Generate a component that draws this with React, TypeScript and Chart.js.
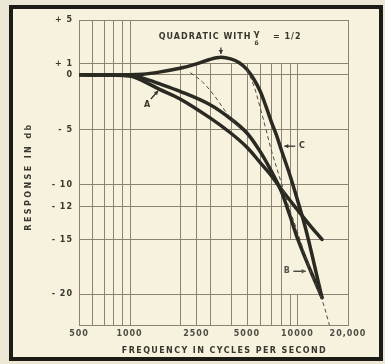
import React, { useEffect, useRef } from "react";
import { Chart, registerables } from "chart.js";
Chart.register(...registerables);

// ---- axes ----
const xTickValues = [500, 1000, 2500, 5000, 10000, 20000];
const xTickLabels = ["500", "1000", "2500", "5000", "10000", "20,000"];
const yTickValues = [5, 1, 0, -5, -10, -12, -15, -20];
const yTickLabels = ["+ 5", "+ 1", "0", "- 5", "- 10", "- 12", "- 15", "- 20"];
const xMin = 500;
const xMax = 20000;
const yMin = -22.8;
const yMax = 5;
const xTitle = "FREQUENCY IN CYCLES PER SECOND";
const yTitle = "RESPONSE IN db";

// vertical grid lines (frequencies) and horizontal bands they span
const gridFreqs = [600, 700, 800, 900, 1000, 2000, 2500, 3000, 4000, 5000, 6000, 7000, 8000, 9000, 10000];
const bandTopDb = [5, 1, 0, -5, -10, -12, -15, -20];
const bandBottomDb = [1, 0, -5, -10, -12, -15, -20, -22.8];
const bandMaxFreq = [1000, 10000, 10000, 10000, 10000, 10000, 8000, 10000];

// ---- series ----
// C: quadratic with gamma/delta = 1/2
const cFreq = [500, 1000, 1200, 1500, 2000, 2500, 3000, 3500, 4000, 4500, 5000, 5500, 6000, 6500, 7000, 7500, 8000, 9000, 10000, 11000, 12000, 13000, 14000];
const cDb = [0, 0, 0.05, 0.25, 0.6, 1.0, 1.4, 1.6, 1.45, 1.1, 0.5, -0.4, -1.5, -2.9, -4.3, -5.5, -6.8, -9.1, -11.4, -13.6, -15.9, -18.2, -20.3];
// B
const bFreq = [500, 1000, 1200, 1500, 2000, 3000, 4000, 5000, 6000, 7000, 8000, 9000, 10000, 12000, 14000];
const bDb = [0, -0.05, -0.3, -0.8, -1.5, -2.7, -4.0, -5.3, -7.0, -8.8, -10.6, -12.8, -14.9, -17.9, -20.3];
// A
const aFreq = [500, 1000, 1200, 1500, 2000, 3000, 4000, 5000, 6000, 7000, 8000, 10000, 12000, 14000];
const aDb = [0, -0.1, -0.55, -1.3, -2.2, -3.9, -5.3, -6.6, -8.0, -9.2, -10.4, -12.3, -13.8, -15.0];
// dashed curves
const d1Freq = [2300, 2700, 3200, 3800, 4500];
const d1Db = [0.2, -0.6, -1.9, -3.5, -4.8];
const d2Freq = [5000, 5500, 6000, 6500, 7000, 8000, 9000, 10000, 12000, 14000, 15500];
const d2Db = [0.5, -1.0, -3.0, -5.0, -6.9, -9.8, -12.3, -14.3, -18.0, -20.5, -22.8];

const ink = "#2a2a22";
const gridColor = "#8e8272";
const textColor = "#37372f";
const FONT = "'DejaVu Sans', sans-serif";

const pts = (f: number[], d: number[]) => f.map((v, i) => ({ x: v, y: d[i] }));

function arrow(ctx: CanvasRenderingContext2D, x1: number, y1: number, x2: number, y2: number) {
  ctx.beginPath();
  ctx.moveTo(x1, y1);
  ctx.lineTo(x2, y2);
  ctx.stroke();
  const ang = Math.atan2(y2 - y1, x2 - x1);
  const L = 4, W = 2.2;
  ctx.beginPath();
  ctx.moveTo(x2, y2);
  ctx.lineTo(x2 - L * Math.cos(ang) + W * Math.sin(ang), y2 - L * Math.sin(ang) - W * Math.cos(ang));
  ctx.lineTo(x2 - L * Math.cos(ang) - W * Math.sin(ang), y2 - L * Math.sin(ang) + W * Math.cos(ang));
  ctx.closePath();
  ctx.fill();
}

const paperPlugin = {
  id: "paper",
  beforeDraw(chart: any) {
    (chart.ctx as any).letterSpacing = "1px";
  },
  beforeDatasetsDraw(chart: any) {
    const { ctx, chartArea, scales } = chart;
    const x = scales.x, y = scales.y;
    ctx.save();
    ctx.strokeStyle = gridColor;
    ctx.lineWidth = 1;
    for (let b = 0; b < bandTopDb.length; b++) {
      const y1 = y.getPixelForValue(bandTopDb[b]);
      const y2 = y.getPixelForValue(bandBottomDb[b]);
      for (const f of gridFreqs) {
        if (f > bandMaxFreq[b]) continue;
        const px = Math.round(x.getPixelForValue(f)) + 0.5;
        ctx.beginPath();
        ctx.moveTo(px, y1);
        ctx.lineTo(px, y2);
        ctx.stroke();
      }
    }
    ctx.strokeRect(
      Math.round(chartArea.left) + 0.5,
      Math.round(chartArea.top) + 0.5,
      Math.round(chartArea.right - chartArea.left),
      Math.round(chartArea.bottom - chartArea.top)
    );
    ctx.restore();
  },
  afterDatasetsDraw(chart: any) {
    const { ctx, scales, chartArea } = chart;
    const X = (f: number) => scales.x.getPixelForValue(f);
    const Y = (d: number) => scales.y.getPixelForValue(d);
    ctx.save();
    (ctx as any).letterSpacing = "1px";
    ctx.fillStyle = textColor;
    ctx.strokeStyle = ink;
    ctx.lineWidth = 1.2;
    ctx.font = `bold 8px ${FONT}`;
    ctx.textBaseline = "middle";
    // title
    ctx.textAlign = "right";
    ctx.fillText("QUADRATIC WITH", X(5320), Y(3.45));
    ctx.textAlign = "center";
    ctx.font = `bold 9px ${FONT}`;
    ctx.fillText("γ", X(5750), Y(3.75));
    ctx.font = `bold 6px ${FONT}`;
    ctx.fillText("δ", X(5750), Y(2.85));
    ctx.font = `bold 8px ${FONT}`;
    ctx.textAlign = "left";
    ctx.fillText("= 1/2", X(7150), Y(3.45));
    // peak arrow
    arrow(ctx, X(3500), Y(2.5), X(3500), Y(1.9));
    // A
    ctx.textAlign = "center";
    ctx.fillText("A", X(1280), Y(-2.75));
    arrow(ctx, X(1340), Y(-2.2), X(1480), Y(-1.45));
    // C
    ctx.fillText("C", X(10700), Y(-6.5));
    arrow(ctx, X(9700), Y(-6.5), X(8350), Y(-6.5));
    // B
    ctx.fillStyle = "#55554c";
    ctx.fillText("B", X(8700), Y(-17.9));
    arrow(ctx, X(9450), Y(-17.9), X(11200), Y(-17.9));

    // axis titles
    ctx.fillStyle = textColor;
    ctx.font = `bold 8px ${FONT}`;
    (ctx as any).letterSpacing = "1.4px";
    ctx.textAlign = "center";
    ctx.fillText(xTitle, (chartArea.left + chartArea.right) / 2 + 11, chartArea.bottom + 26);
    (ctx as any).letterSpacing = "2.4px";
    ctx.translate(chartArea.left - 50, (chartArea.top + chartArea.bottom) / 2 + 4);
    ctx.rotate(-Math.PI / 2);
    ctx.fillText(yTitle, 0, 0);
    ctx.restore();
  },
};

export default function App() {
  const ref = useRef<HTMLCanvasElement | null>(null);
  useEffect(() => {
    if (!ref.current) return;
    const thick = (data: any) => ({
      data,
      borderColor: ink,
      borderWidth: 3.5,
      pointRadius: 0,
      fill: false,
      tension: 0.35,
      borderCapStyle: "round" as const,
      borderJoinStyle: "round" as const,
    });
    const dashed = (data: any) => ({
      data,
      borderColor: "#4a4a42",
      borderWidth: 1,
      borderDash: [4, 3],
      pointRadius: 0,
      fill: false,
      tension: 0.35,
    });
    const chart = new Chart(ref.current, {
      type: "line",
      data: {
        datasets: [
          dashed(pts(d1Freq, d1Db)),
          dashed(pts(d2Freq, d2Db)),
          thick(pts(aFreq, aDb)),
          thick(pts(bFreq, bDb)),
          thick(pts(cFreq, cDb)),
        ],
      },
      options: {
        animation: false,
        responsive: false,
        devicePixelRatio: 1,
        layout: { padding: { left: 9, right: 37, top: 20, bottom: 0 } },
        plugins: { legend: { display: false }, tooltip: { enabled: false } },
        scales: {
          x: {
            type: "logarithmic",
            min: xMin,
            max: xMax,
            afterBuildTicks: (s: any) => {
              s.ticks = xTickValues.map((v) => ({ value: v }));
            },
            afterFit: (s: any) => {
              s.height = 39;
            },
            grid: { display: false, drawTicks: false },
            border: { display: false },
            ticks: {
              autoSkip: false,
              maxRotation: 0,
              padding: 4,
              color: "#4d4d44",
              font: { family: FONT, size: 8, weight: "bold" },
              callback: (_v: any, i: number) => xTickLabels[i],
            },
            title: { display: false },
          },
          y: {
            type: "linear",
            min: yMin,
            max: yMax,
            afterBuildTicks: (s: any) => {
              s.ticks = yTickValues.map((v) => ({ value: v }));
            },
            afterFit: (s: any) => {
              s.width = 70;
            },
            grid: { color: gridColor, lineWidth: 1, drawTicks: false },
            border: { display: false },
            ticks: {
              autoSkip: false,
              padding: 6,
              color: textColor,
              font: { family: FONT, size: 8, weight: "bold" },
              callback: (_v: any, i: number) => yTickLabels[i],
            },
            title: { display: false },
          },
        },
      },
      plugins: [paperPlugin],
    });
    return () => chart.destroy();
  }, []);
  return (
    <div style={{ position: "fixed", left: 0, top: 0, width: 385, height: 364, background: "#ece7d4", overflow: "hidden" }}>
      <div style={{ position: "absolute", left: 9, top: 5, width: 374, height: 356, background: "#f6f2de" }} />
      <canvas ref={ref} width={385} height={364} style={{ position: "absolute", left: 0, top: 0, width: 385, height: 364 }} />
      <div
        style={{
          position: "absolute",
          left: 9,
          top: 5,
          width: 374,
          height: 356,
          boxSizing: "border-box",
          border: "4px solid #1c1c16",
          pointerEvents: "none",
        }}
      />
    </div>
  );
}
